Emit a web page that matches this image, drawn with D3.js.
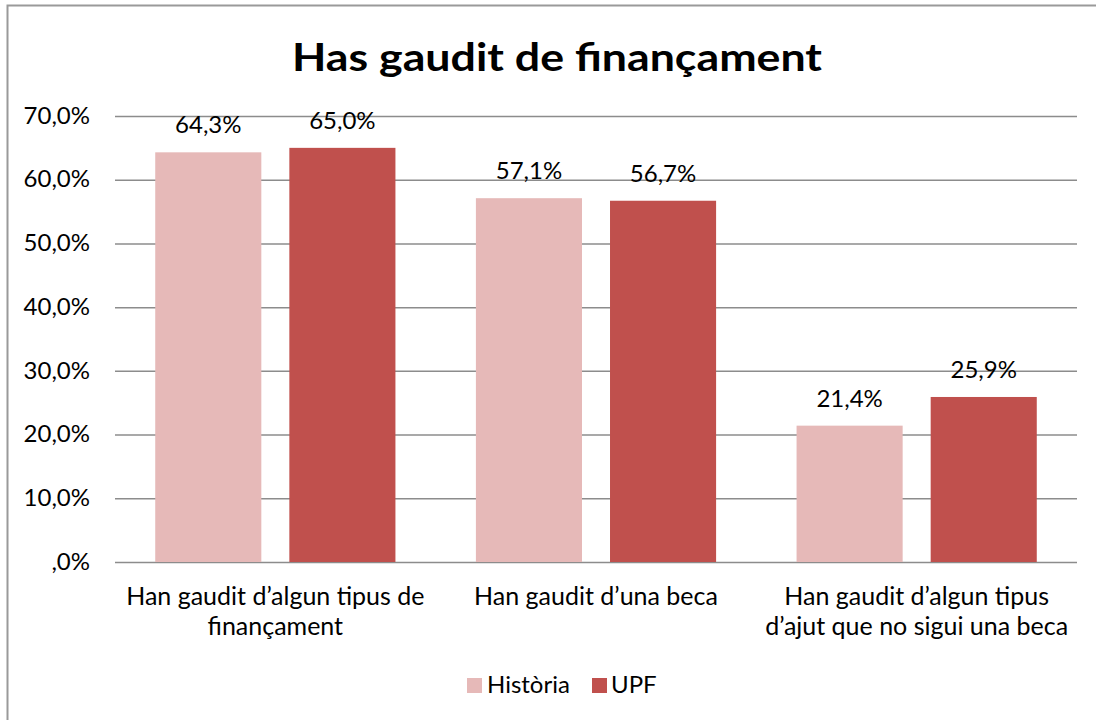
<!DOCTYPE html>
<html><head><meta charset="utf-8">
<script src="https://cdn.jsdelivr.net/npm/d3@7"></script>
<style>html,body{margin:0;padding:0;background:#fff;}svg{display:block;}</style>
</head><body>
<svg id="c" width="1096" height="720"></svg>
<script>
const categories = [
  ["Han gaudit d\u2019algun tipus de", "finançament"],
  ["Han gaudit d\u2019una beca"],
  ["Han gaudit d\u2019algun tipus", "d\u2019ajut que no sigui una beca"]
];
const seriesNames = ["Història", "UPF"];
const historia = [64.3, 57.1, 21.4];
const upf = [65.0, 56.7, 25.9];
const yTicks = [0, 10, 20, 30, 40, 50, 60, 70];
const title = "Has gaudit de finançament";
const colors = ["#E6B9B8", "#C0504D"];

(function () {
const svg = d3.select("#c");
const font = "Lato, 'Open Sans', sans-serif";
const pLeft = 115, pRight = 1077, pTop = 116, pBottom = 562;

// outer border
svg.append("rect").attr("x", 7.5).attr("y", 5.5).attr("width", 1200).attr("height", 800)
  .attr("fill", "#fff").attr("stroke", "#9a9a9a").attr("stroke-width", 2);

svg.append("text").attr("x", 557).attr("y", 71).attr("text-anchor", "middle")
  .attr("font-family", font).attr("font-weight", "bold").attr("font-size", 39)
  .attr("fill", "#000").attr("textLength", 530).attr("lengthAdjust", "spacingAndGlyphs")
  .text(title);

const y = d3.scaleLinear().domain([0, 70]).range([pBottom, pTop]);
const x0 = d3.scaleBand().domain(d3.range(categories.length)).range([pLeft, pRight]).paddingInner(0).paddingOuter(0);
const x1 = d3.scaleBand().domain([0, 1]).range([0, x0.bandwidth()]).paddingInner(0.209).paddingOuter(0.3);

// gridlines
const yAxis = d3.axisLeft(y).tickValues(yTicks).tickSize(-(pRight - pLeft)).tickPadding(25)
  .tickFormat(d => (d === 0 ? "" : d3.format("d")(d)) + ",0%");
const g = svg.append("g").attr("transform", `translate(${pLeft},0)`).call(yAxis);
g.select(".domain").remove();
g.selectAll(".tick line").attr("stroke", "#8c8c8c").attr("stroke-width", 1.5);
g.selectAll(".tick text").attr("font-family", font).attr("font-size", 24).attr("fill", "#000")
  .attr("dy", "0.3em");

const data = categories.map((c, i) => ({i, vals: [historia[i], upf[i]]}));
const grp = svg.append("g").selectAll("g").data(data).join("g")
  .attr("transform", d => `translate(${x0(d.i)},0)`);
grp.selectAll("rect").data(d => d.vals.map((v, k) => ({v, k}))).join("rect")
  .attr("x", d => x1(d.k)).attr("width", x1.bandwidth())
  .attr("y", d => y(d.v)).attr("height", d => y(0) - y(d.v))
  .attr("fill", d => colors[d.k]);
grp.selectAll("text.lbl").data(d => d.vals.map((v, k) => ({v, k}))).join("text")
  .attr("class", "lbl")
  .attr("x", d => x1(d.k) + x1.bandwidth() / 2).attr("y", d => y(d.v) - 19)
  .attr("text-anchor", "middle").attr("font-family", font).attr("font-size", 24).attr("fill", "#000")
  .text(d => d3.format(".1f")(d.v).replace(".", ",") + "%");

// category labels
categories.forEach((lines, i) => {
  const t = svg.append("text").attr("x", x0(i) + x0.bandwidth() / 2).attr("y", 605)
    .attr("text-anchor", "middle").attr("font-family", font).attr("font-size", 25).attr("fill", "#000");
  lines.forEach((ln, j) => t.append("tspan").attr("x", x0(i) + x0.bandwidth() / 2).attr("dy", j ? 30 : 0).text(ln));
});

// legend
const leg = [{x: 467, tx: 487}, {x: 592, tx: 611}];
seriesNames.forEach((n, k) => {
  svg.append("rect").attr("x", leg[k].x).attr("y", 678).attr("width", 15).attr("height", 15).attr("fill", colors[k]);
  svg.append("text").attr("x", leg[k].tx).attr("y", 693).attr("font-family", font).attr("font-size", 24)
    .attr("fill", "#000").text(n);
});
})();
</script>
</body></html>
